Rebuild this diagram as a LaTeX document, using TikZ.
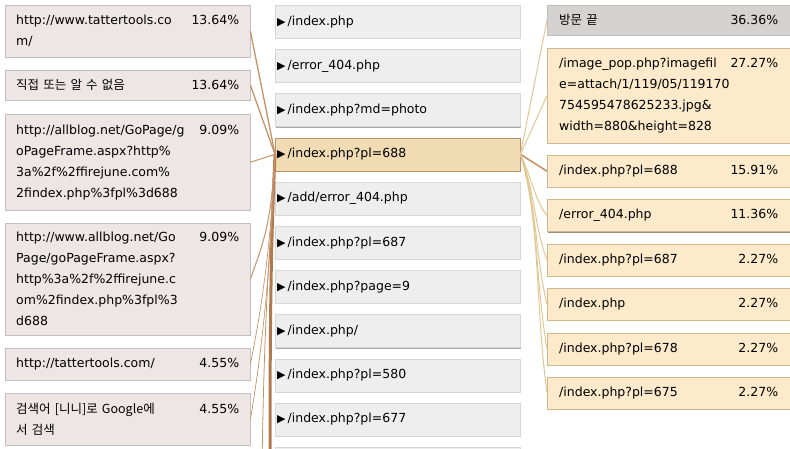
\documentclass[tikz,border=0pt]{standalone}
\usepackage{fontspec}
\setmainfont{DejaVu Sans}
\newfontfamily\kr{Noto Sans CJK KR}
\usetikzlibrary{shadows}

\definecolor{lfill}{HTML}{EEE5E5}
\definecolor{lborder}{HTML}{C6BEBE}
\definecolor{lshade}{HTML}{8C8484}
\definecolor{mfill}{HTML}{EEEEEE}
\definecolor{mborder}{HTML}{D6D6D6}
\definecolor{mshade}{HTML}{A8A8A8}
\definecolor{hfill}{HTML}{F1DBB3}
\definecolor{hborder}{HTML}{B89468}
\definecolor{rfill}{HTML}{FCEACB}
\definecolor{rborder}{HTML}{D2B88E}
\definecolor{rshade}{HTML}{9C8C74}
\definecolor{gfill}{HTML}{D6D2D2}
\definecolor{gborder}{HTML}{C2BDBD}
\definecolor{inbrown}{HTML}{C49468}
\definecolor{deepbrown}{HTML}{B07A4E}
\definecolor{outtan}{HTML}{E2C794}

\newcommand{\pct}[1]{\hskip 0pt plus 1filll #1}
\newcommand{\tri}{{\fontsize{11}{11}\selectfont ▶}\hspace{2pt}}

\begin{document}
\begin{tikzpicture}[x=1pt,y=-1pt,
  every node/.style={anchor=north west,inner ysep=0pt,align=left,
    font=\fontsize{12.5}{21}\selectfont},
  lbox/.style={draw=lborder,fill=lfill,text width=223pt,inner xsep=11pt,
    drop shadow={shadow xshift=1pt,shadow yshift=-1pt,fill=lshade,opacity=1}},
  mbox/.style={draw=mborder,fill=mfill,text width=241pt,inner xsep=2pt,
    minimum height=33pt,
    drop shadow={shadow xshift=1pt,shadow yshift=-1pt,fill=mshade,opacity=1}},
  hbox/.style={draw=hborder,fill=hfill},
  rbox/.style={draw=rborder,fill=rfill,text width=219pt,inner xsep=12pt,
    minimum height=32pt,
    drop shadow={shadow xshift=1pt,shadow yshift=-1pt,fill=rshade,opacity=1}},
  gbox/.style={draw=gborder,fill=gfill},
  inlink/.style={draw=inbrown,line width=#1},
  outlink/.style={draw=outtan,line width=#1}]
  \useasboundingbox (0,0) rectangle (790,448);
  \clip (0,0) rectangle (790,448);

  % where the visitors came from
  \node[lbox,minimum height=52pt] (l1) at (5,5)
    {\parbox[t]{168pt}{http://www.tattertools.co\\m/}\pct{13.64\%}};
  \node[lbox,minimum height=30pt] (l2) at (5,70)
    {{\kr 직접 또는 알 수 없음}\pct{13.64\%}};
  \node[lbox,minimum height=96pt] (l3) at (5,114)
    {\parbox[t]{168pt}{http://allblog.net/GoPage/g\\oPageFrame.aspx?http\%\\
     3a\%2f\%2ffirejune.com\%\\2findex.php\%3fpl\%3d688}\pct{9.09\%}};
  \node[lbox,minimum height=112pt] (l4) at (5,223)
    {\parbox[t]{168pt}{http://www.allblog.net/Go\\Page/goPageFrame.aspx?\\
     http\%3a\%2f\%2ffirejune.c\\om\%2findex.php\%3fpl\%3\\d688}\pct{9.09\%}};
  \node[lbox,minimum height=32pt] (l5) at (5,348)
    {http://tattertools.com/\pct{4.55\%}};
  \node[lbox,minimum height=52pt] (l6) at (5,393)
    {\parbox[t]{168pt}{\kr 검색어 [니니]로 Google에\\서 검색}\pct{4.55\%}};

  % pages
  \foreach \n/\i/\t in {m0/0/{/index.php},m1/1/{/error\_404.php},
      m2/2/{/index.php?md=photo},m4/4/{/add/error\_404.php},
      m5/5/{/index.php?pl=687},m6/6/{/index.php?page=9},
      m7/7/{/index.php/},m8/8/{/index.php?pl=580},
      m9/9/{/index.php?pl=677}}
    \node[mbox] (\n) at (275,5+44.2*\i) {\tri\t};
  \node[mbox] (m10) at (275,447) {};
  \node[mbox,hbox] (hl) at (275,137.6) {\tri/index.php?pl=688};

  % where they went next
  \node[rbox,gbox,minimum height=30pt] (r1) at (547,5)
    {{\kr 방문 끝}\pct{36.36\%}};
  \node[rbox,minimum height=95pt] (r2) at (547,48)
    {\parbox[t]{170pt}{/image\_pop.php?imagefil\\e=attach/1/119/05/119170\\
     754595478625233.jpg\&\\width=880\&height=828}\pct{27.27\%}};
  \node[rbox] (r3) at (547,155) {/index.php?pl=688\pct{15.91\%}};
  \node[rbox] (r4) at (547,199.4) {/error\_404.php\pct{11.36\%}};
  \node[rbox] (r5) at (547,243.8) {/index.php?pl=687\pct{2.27\%}};
  \node[rbox] (r6) at (547,288.2) {/index.php\pct{2.27\%}};
  \node[rbox] (r7) at (547,332.6) {/index.php?pl=678\pct{2.27\%}};
  \node[rbox] (r8) at (547,377) {/index.php?pl=675\pct{2.27\%}};

  % incoming
  \coordinate (off1) at (270,470);
  \coordinate (off2) at (262,470);
  \draw[line width=3pt,deepbrown] (off1) .. controls +(0,-160) and +(-4,90) .. (hl.west);
  \draw[inlink=.8pt] (off2) .. controls +(2,-150) and +(-6,110) .. (hl.west);
  \draw[inlink=1.3pt] (l1.east) -- (hl.west);
  \draw[inlink=1.3pt] (l2.east) -- (hl.west);
  \draw[inlink=1pt] (l3.east) -- (hl.west);
  \draw[inlink=1pt] (l4.east) .. controls +(14,-40) and +(-4,70) .. (hl.west);
  \draw[inlink=.7pt] (l5.east) .. controls +(12,-60) and +(-4,90) .. (hl.west);
  \draw[inlink=.7pt] (l6.east) .. controls +(12,-70) and +(-4,110) .. (hl.west);

  % outgoing
  \draw[outlink=1pt] (hl.east) -- (r1.west);
  \draw[outlink=1pt] (hl.east) -- (r2.west);
  \draw[outlink=1.6pt,inbrown] (hl.east) -- (r3.west);
  \draw[outlink=1pt] (hl.east) .. controls +(12,25) and +(-12,-15) .. (r4.west);
  \draw[outlink=1pt] (hl.east) .. controls +(14,35) and +(-12,-30) .. (r5.west);
  \draw[outlink=1pt] (hl.east) .. controls +(16,45) and +(-12,-50) .. (r6.west);
  \draw[outlink=1pt] (hl.east) .. controls +(18,55) and +(-12,-70) .. (r7.west);
  \draw[outlink=1pt] (hl.east) .. controls +(20,65) and +(-12,-90) .. (r8.west);
\end{tikzpicture}
\end{document}
